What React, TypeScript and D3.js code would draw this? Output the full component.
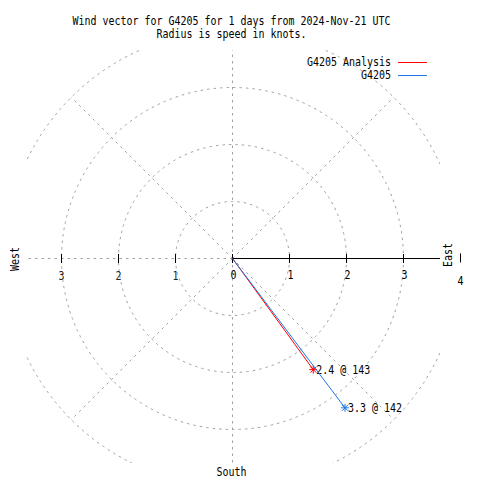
import React from "react";
import * as d3 from "d3";

const titleLines = ["Wind vector for G4205 for 1 days from 2024-Nov-21 UTC", "Radius is speed in knots."];
const seriesNames = ["G4205 Analysis", "G4205"];
const seriesColors = ["#ff0000", "#1e78e6"];
const speeds = [2.41, 3.28];
const directions = [144, 143];
const labelSpeeds = ["2.4", "3.3"];
const labelDirs = ["143", "142"];
const rings = [1, 2, 3, 4];
const eastTicks = [0, 1, 2, 3];
const westTicks = [1, 2, 3];
const spokeAngles = [0, 45, 90, 135, 180, 225, 270, 315];

const W = 480;
const H = 480;
const cx = 232.5;
const cy = 258.5;
const FONT = "'DejaVu Sans Mono', 'Liberation Mono', monospace";
const GRID = "#a0a0a0";

const r = d3.scaleLinear().domain([0, 4]).range([0, 228]);
const px = (speed: number, dir: number) => cx + r(speed) * Math.sin((dir * Math.PI) / 180);
const py = (speed: number, dir: number) => cy - r(speed) * Math.cos((dir * Math.PI) / 180);

function T(props: any) {
  const { children, anchor = "start", ...rest } = props;
  const s = String(children);
  return (
    <text
      fontFamily={FONT}
      fontSize={12}
      textLength={s.length * 6}
      lengthAdjust="spacingAndGlyphs"
      textAnchor={anchor}
      fill="#000"
      {...rest}
    >
      {s}
    </text>
  );
}

export default function App() {
  const clip = { x: 26, y: 50, w: 414, h: 413 };
  return (
    <svg width={W} height={H} style={{ position: "absolute", left: 0, top: 0, background: "#fff" }}>
      <defs>
        <clipPath id="plotclip">
          <rect x={clip.x} y={clip.y} width={clip.w} height={clip.h} />
        </clipPath>
      </defs>
      <rect x={0} y={0} width={W} height={H} fill="#fff" />
      <g clipPath="url(#plotclip)" fill="none" stroke={GRID} strokeWidth={1} strokeDasharray="2.5,4">
        {rings.map((k) => (
          <circle key={k} cx={cx} cy={cy} r={r(k)} />
        ))}
        {spokeAngles.map((a) => (
          <line key={a} x1={cx} y1={cy} x2={px(4, a)} y2={py(4, a)} />
        ))}
      </g>
      {/* east axis */}
      <line x1={cx} y1={cy} x2={440} y2={cy} stroke="#000" strokeWidth={1} />
      {eastTicks.map((k) => (
        <line key={"et" + k} x1={cx + r(k)} x2={cx + r(k)} y1={cy - 4.5} y2={cy + 4.5} stroke="#000" />
      ))}
      <line x1={cx + r(4)} x2={cx + r(4)} y1={cy - 5} y2={cy + 4} stroke="#000" />
      {westTicks.map((k) => (
        <line key={"wt" + k} x1={cx - r(k)} x2={cx - r(k)} y1={cy - 4.5} y2={cy + 4.5} stroke="#000" />
      ))}
      {eastTicks.map((k) => (
        <T key={"el" + k} x={cx + r(k) + 1} y={279} anchor="middle">{String(k)}</T>
      ))}
      <T x={cx + r(4)} y={285} anchor="middle">4</T>
      {westTicks.map((k) => (
        <T key={"wl" + k} x={cx - r(k)} y={280} anchor="middle" fill="#222">{String(k)}</T>
      ))}
      {/* direction labels */}
      <T x={0} y={0} anchor="middle" transform={`translate(18.5,259) rotate(-90)`}>West</T>
      <T x={0} y={0} anchor="middle" transform={`translate(451.5,255) rotate(-90)`}>East</T>
      <T x={231.5} y={476} anchor="middle">South</T>
      {/* title */}
      <T x={231.5} y={25} anchor="middle">{titleLines[0]}</T>
      <T x={231.5} y={37.5} anchor="middle">{titleLines[1]}</T>
      {/* legend */}
      {seriesNames.map((n, i) => (
        <g key={"lg" + i}>
          <T x={391} y={66 + i * 13} anchor="end">{n}</T>
          <line x1={398} x2={427} y1={62.5 + i * 13} y2={62.5 + i * 13} stroke={seriesColors[i]} strokeWidth={1} />
        </g>
      ))}
      {/* vectors */}
      {speeds.map((s, i) => {
        const x = px(s, directions[i]);
        const y = py(s, directions[i]);
        const m = 4;
        return (
          <g key={"v" + i}>
            <line x1={cx} y1={cy} x2={x} y2={y} stroke={seriesColors[i]} strokeWidth={1} />
            <g stroke={seriesColors[i]} strokeWidth={1}>
              <line x1={x - m} x2={x + m} y1={y} y2={y} />
              <line x1={x} x2={x} y1={y - m} y2={y + m} />
              <line x1={x - 3} x2={x + 3} y1={y - 3} y2={y + 3} />
              <line x1={x - 3} x2={x + 3} y1={y + 3} y2={y - 3} />
            </g>
            <T x={x + 3} y={y + 4}>{`${labelSpeeds[i]} @ ${labelDirs[i]}`}</T>
          </g>
        );
      })}
    </svg>
  );
}
